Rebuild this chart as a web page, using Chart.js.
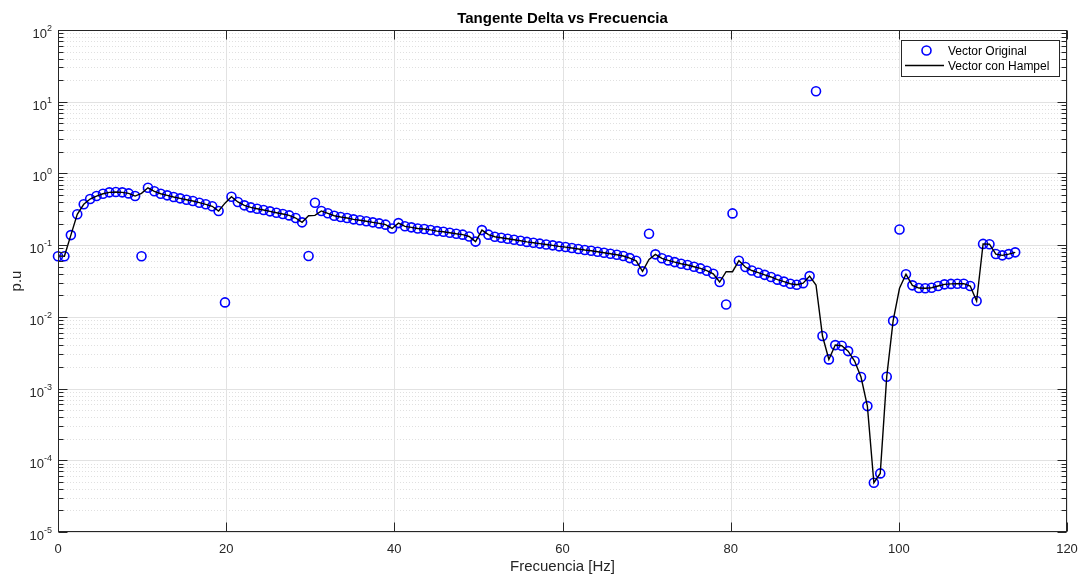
<!DOCTYPE html>
<html>
<head>
<meta charset="utf-8">
<script src="https://cdn.jsdelivr.net/npm/chart.js@4.4.0/dist/chart.umd.min.js"></script>
<style>
  html, body { margin: 0; padding: 0; background: #fff; }
  #mycanvas { display: block; }
</style>
</head>
<body>
<canvas id="mycanvas" width="1080" height="574"></canvas>
<script>
// frecuencias de la medicion [Hz]
var freq = [
  0.00, 0.76, 1.53, 2.29, 3.06, 3.82, 4.58, 5.35, 6.11, 6.88,
  7.64, 8.40, 9.17, 9.93, 10.70, 11.46, 12.22, 12.99, 13.75, 14.52,
  15.28, 16.04, 16.81, 17.57, 18.34, 19.10, 19.86, 20.63, 21.39, 22.16,
  22.92, 23.68, 24.45, 25.21, 25.98, 26.74, 27.50, 28.27, 29.03, 29.80,
  30.56, 31.32, 32.09, 32.85, 33.62, 34.38, 35.14, 35.91, 36.67, 37.44,
  38.20, 38.96, 39.73, 40.49, 41.26, 42.02, 42.78, 43.55, 44.31, 45.08,
  45.84, 46.60, 47.37, 48.13, 48.90, 49.66, 50.42, 51.19, 51.95, 52.72,
  53.48, 54.24, 55.01, 55.77, 56.54, 57.30, 58.06, 58.83, 59.59, 60.36,
  61.12, 61.88, 62.65, 63.41, 64.18, 64.94, 65.70, 66.47, 67.23, 68.00,
  68.76, 69.52, 70.29, 71.05, 71.82, 72.58, 73.34, 74.11, 74.87, 75.64,
  76.40, 77.16, 77.93, 78.69, 79.46, 80.22, 80.98, 81.75, 82.51, 83.28,
  84.04, 84.80, 85.57, 86.33, 87.10, 87.86, 88.62, 89.39, 90.15, 90.92,
  91.68, 92.44, 93.21, 93.97, 94.74, 95.50, 96.26, 97.03, 97.79, 98.56,
  99.32, 100.08, 100.85, 101.61, 102.38, 103.14, 103.90, 104.67, 105.43, 106.20,
  106.96, 107.72, 108.49, 109.25, 110.02, 110.78, 111.54, 112.31, 113.07, 113.84
];

// tangente delta medida (con valores atipicos)
var vectorOriginal = [
  0.070, 0.070, 0.138, 0.269, 0.371, 0.440, 0.484, 0.521, 0.545, 0.550,
  0.545, 0.527, 0.484, 0.070, 0.630, 0.563, 0.521, 0.495, 0.469, 0.449,
  0.430, 0.412, 0.391, 0.371, 0.348, 0.299, 0.0159, 0.473, 0.400, 0.359,
  0.336, 0.322, 0.309, 0.296, 0.283, 0.272, 0.260, 0.239, 0.208, 0.0705,
  0.390, 0.300, 0.278, 0.257, 0.247, 0.239, 0.229, 0.222, 0.215, 0.208,
  0.201, 0.193, 0.171, 0.203, 0.183, 0.177, 0.171, 0.168, 0.163, 0.157,
  0.154, 0.149, 0.144, 0.140, 0.132, 0.112, 0.162, 0.140, 0.131, 0.127,
  0.123, 0.119, 0.115, 0.111, 0.108, 0.105, 0.102, 0.0993, 0.0962, 0.0940,
  0.0911, 0.0882, 0.0855, 0.0836, 0.0810, 0.0784, 0.0759, 0.0735, 0.0705, 0.0660,
  0.0605, 0.0431, 0.144, 0.0744, 0.0655, 0.0613, 0.0580, 0.0550, 0.0528, 0.0500,
  0.0474, 0.0440, 0.0399, 0.0306, 0.0149, 0.277, 0.0607, 0.0495, 0.0443, 0.0413,
  0.0385, 0.0360, 0.0330, 0.0310, 0.0290, 0.0280, 0.0295, 0.0370, 14.0, 0.0054,
  0.00255, 0.00404, 0.00395, 0.00333, 0.00242, 0.00145, 0.00057, 0.0000486, 0.0000656, 0.00146,
  0.0088, 0.165, 0.0392, 0.0275, 0.0252, 0.0251, 0.0255, 0.0269, 0.0284, 0.0288,
  0.0290, 0.0290, 0.0269, 0.0166, 0.104, 0.103, 0.0751, 0.0720, 0.0750, 0.0794
];

// mismo vector despues del filtro Hampel
var vectorHampel = [
  0.070, 0.070, 0.138, 0.269, 0.371, 0.440, 0.484, 0.521, 0.545, 0.550,
  0.545, 0.527, 0.484, 0.527, 0.630, 0.563, 0.521, 0.495, 0.469, 0.449,
  0.430, 0.412, 0.391, 0.371, 0.348, 0.299, 0.385, 0.473, 0.400, 0.359,
  0.336, 0.322, 0.309, 0.296, 0.283, 0.272, 0.260, 0.239, 0.208, 0.257,
  0.260, 0.300, 0.278, 0.257, 0.247, 0.239, 0.229, 0.222, 0.215, 0.208,
  0.201, 0.193, 0.171, 0.203, 0.183, 0.177, 0.171, 0.168, 0.163, 0.157,
  0.154, 0.149, 0.144, 0.140, 0.132, 0.112, 0.162, 0.140, 0.131, 0.127,
  0.123, 0.119, 0.115, 0.111, 0.108, 0.105, 0.102, 0.0993, 0.0962, 0.0940,
  0.0911, 0.0882, 0.0855, 0.0836, 0.0810, 0.0784, 0.0759, 0.0735, 0.0705, 0.0660,
  0.0605, 0.0431, 0.063, 0.0744, 0.0655, 0.0613, 0.0580, 0.0550, 0.0528, 0.0500,
  0.0474, 0.0440, 0.0399, 0.0306, 0.0426, 0.0426, 0.0607, 0.0495, 0.0443, 0.0413,
  0.0385, 0.0360, 0.0330, 0.0310, 0.0290, 0.0280, 0.0295, 0.0370, 0.0278, 0.0054,
  0.00255, 0.00404, 0.00395, 0.00333, 0.00242, 0.00145, 0.00057, 0.0000486, 0.0000656, 0.00146,
  0.0088, 0.025, 0.0392, 0.0275, 0.0252, 0.0251, 0.0255, 0.0269, 0.0284, 0.0288,
  0.0290, 0.0290, 0.0269, 0.0166, 0.104, 0.103, 0.0751, 0.0720, 0.0750, 0.0794
];

var xTicks = [0, 20, 40, 60, 80, 100, 120];
var yExponents = [-5, -4, -3, -2, -1, 0, 1, 2];

var titulo = 'Tangente Delta vs Frecuencia';
var xTitulo = 'Frecuencia [Hz]';
var yTitulo = 'p.u';
var leyenda = ['Vector Original', 'Vector con Hampel'];

var axisColor = '#262626';
var font = '"Liberation Sans", Arial, Helvetica, sans-serif';

function pares(ys) {
  var out = [];
  for (var i in freq) {
    out.push({x: freq[i], y: ys[i]});
  }
  return out;
}

function crisp(v) { return Math.round(v) + 0.5; }

// rejilla estilo matlab: mayor continua, menor punteada
var rejilla = {
  id: 'rejilla',
  beforeDatasetsDraw: function(chart) {
    var ctx = chart.ctx, a = chart.chartArea;
    var xs = chart.scales.x, ys = chart.scales.y;
    ctx.save();
    ctx.lineWidth = 1;

    // menor (2..9 de cada decada)
    ctx.strokeStyle = '#e0e0e0';
    ctx.setLineDash([1, 2]);
    for (var e = -5; e < 2; e++) {
      for (var k = 2; k <= 9; k++) {
        var y = crisp(ys.getPixelForValue(k * Math.pow(10, e)));
        ctx.beginPath();
        ctx.moveTo(a.left, y);
        ctx.lineTo(a.right, y);
        ctx.stroke();
      }
    }

    // mayor
    ctx.setLineDash([]);
    ctx.strokeStyle = '#e2e2e2';
    yExponents.forEach(function(e) {
      var y = crisp(ys.getPixelForValue(Math.pow(10, e)));
      ctx.beginPath();
      ctx.moveTo(a.left, y);
      ctx.lineTo(a.right, y);
      ctx.stroke();
    });
    xTicks.forEach(function(t) {
      var x = crisp(xs.getPixelForValue(t));
      ctx.beginPath();
      ctx.moveTo(x, a.top);
      ctx.lineTo(x, a.bottom);
      ctx.stroke();
    });
    ctx.restore();
  }
};

// ejes, marcas, etiquetas, titulo y leyenda
var marco = {
  id: 'marco',
  afterDatasetsDraw: function(chart) {
    var ctx = chart.ctx, a = chart.chartArea;
    var xs = chart.scales.x, ys = chart.scales.y;
    var L = crisp(a.left), R = crisp(a.right) - 1, T = crisp(a.top), B = crisp(a.bottom) - 1;
    ctx.save();
    ctx.strokeStyle = axisColor;
    ctx.lineWidth = 1;
    ctx.strokeRect(L, T, R - L, B - T);

    ctx.beginPath();
    xTicks.forEach(function(t) {
      var x = crisp(xs.getPixelForValue(t));
      ctx.moveTo(x, B); ctx.lineTo(x, B - 9);
      ctx.moveTo(x, T); ctx.lineTo(x, T + 9);
    });
    for (var e = -5; e <= 2; e++) {
      for (var k = 1; k <= 9; k++) {
        if (e === 2 && k > 1) break;
        var y = crisp(ys.getPixelForValue(k * Math.pow(10, e)));
        var len = k === 1 ? 9 : 5;
        ctx.moveTo(L, y); ctx.lineTo(L + len, y);
        ctx.moveTo(R, y); ctx.lineTo(R - len, y);
      }
    }
    ctx.stroke();

    // etiquetas del eje x
    ctx.fillStyle = axisColor;
    ctx.font = '13px ' + font;
    ctx.textAlign = 'center';
    ctx.textBaseline = 'alphabetic';
    xTicks.forEach(function(t) {
      ctx.fillText(String(t), xs.getPixelForValue(t), 553);
    });

    // etiquetas del eje y: 10 con exponente
    yExponents.forEach(function(e) {
      var y = ys.getPixelForValue(Math.pow(10, e));
      var ex = String(e);
      ctx.font = '9px ' + font;
      var we = ctx.measureText(ex).width;
      ctx.font = '13px ' + font;
      var wb = ctx.measureText('10').width;
      var right = a.left - 6;
      ctx.textAlign = 'left';
      ctx.fillText('10', right - we - wb, y + 8);
      ctx.font = '9px ' + font;
      ctx.fillText(ex, right - we, y + 1);
    });

    // titulos
    ctx.textAlign = 'center';
    ctx.fillStyle = '#000';
    ctx.font = 'bold 15px ' + font;
    ctx.fillText(titulo, (a.left + a.right) / 2, 23);
    ctx.fillStyle = axisColor;
    ctx.font = '15px ' + font;
    ctx.fillText(xTitulo, (a.left + a.right) / 2, 571);
    ctx.save();
    ctx.translate(21, (a.top + a.bottom) / 2);
    ctx.rotate(-Math.PI / 2);
    ctx.fillText(yTitulo, 0, 0);
    ctx.restore();

    // leyenda
    ctx.fillStyle = '#fff';
    ctx.fillRect(901, 40, 158, 36);
    ctx.strokeStyle = axisColor;
    ctx.lineWidth = 1;
    ctx.strokeRect(901.5, 40.5, 158, 36);
    ctx.strokeStyle = '#0000ff';
    ctx.lineWidth = 1.6;
    ctx.beginPath();
    ctx.arc(926.5, 50.5, 4.5, 0, Math.PI * 2);
    ctx.stroke();
    ctx.strokeStyle = '#000';
    ctx.lineWidth = 1.5;
    ctx.beginPath();
    ctx.moveTo(905, 65.5);
    ctx.lineTo(944, 65.5);
    ctx.stroke();
    ctx.fillStyle = '#000';
    ctx.font = '12px ' + font;
    ctx.textAlign = 'left';
    ctx.fillText(leyenda[0], 948, 55);
    ctx.fillText(leyenda[1], 948, 70);
    ctx.restore();
  }
};

var ctx = document.getElementById('mycanvas');

var chart = new Chart(ctx, {
  type: 'scatter',
  data: {
    datasets: [
      {
        label: leyenda[1],
        data: pares(vectorHampel),
        showLine: true,
        borderColor: '#000',
        borderWidth: 1.4,
        pointRadius: 0,
        tension: 0
      },
      {
        label: leyenda[0],
        data: pares(vectorOriginal),
        showLine: false,
        pointStyle: 'circle',
        pointRadius: 4.5,
        pointBorderWidth: 1.6,
        borderColor: '#0000ff',
        backgroundColor: 'rgba(0,0,0,0)',
        pointBackgroundColor: 'rgba(0,0,0,0)',
        pointBorderColor: '#0000ff',
        clip: false
      }
    ]
  },
  options: {
    responsive: false,
    animation: false,
    devicePixelRatio: 1,
    layout: { padding: { left: 58, right: 13, top: 30, bottom: 42 } },
    plugins: {
      legend: { display: false },
      tooltip: { enabled: false },
      title: { display: false }
    },
    scales: {
      x: { type: 'linear', min: 0, max: 120, display: false },
      y: { type: 'logarithmic', min: 1e-5, max: 1e2, display: false }
    }
  },
  plugins: [rejilla, marco]
});
</script>
</body>
</html>
